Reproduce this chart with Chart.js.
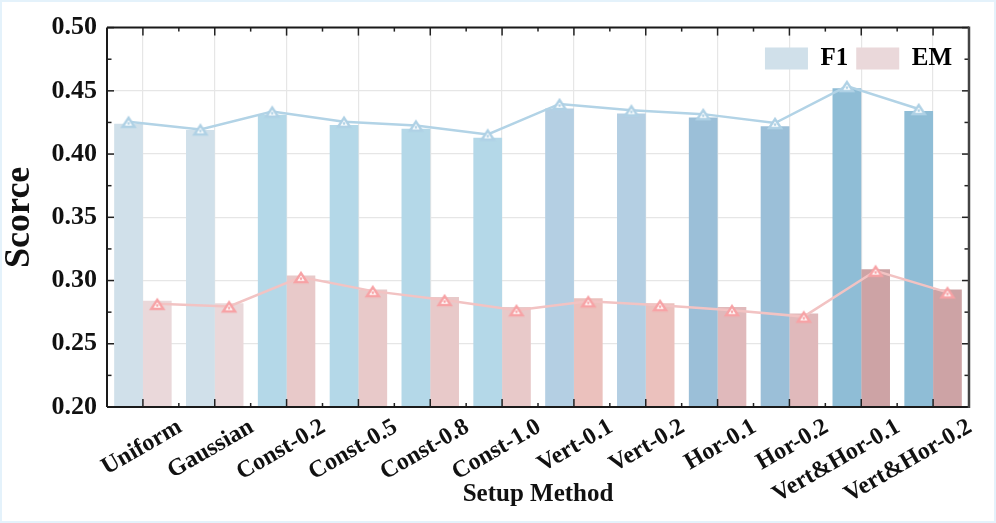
<!DOCTYPE html>
<html>
<head>
<meta charset="utf-8">
<script src="https://cdn.jsdelivr.net/npm/chart.js@4.4.1/dist/chart.umd.min.js"></script>
<style>
  html, body { margin: 0; padding: 0; background: #fff; }
  #wrap { position: relative; width: 996px; height: 523px; box-sizing: border-box; border: 2px solid #e4f2fb; }
  #wrap canvas { position: absolute; left: 0; top: 0; display: block; }
</style>
</head>
<body>
<div id="wrap">
  <canvas id="bars" width="992" height="519"></canvas>
  <canvas id="lines" width="992" height="519"></canvas>
</div>
<script>
// setup methods on the x axis
const methods = ["Uniform", "Gaussian", "Const-0.2", "Const-0.5", "Const-0.8", "Const-1.0",
  "Vert-0.1", "Vert-0.2", "Hor-0.1", "Hor-0.2", "Vert&Hor-0.1", "Vert&Hor-0.2"];

// bar heights
const f1Bars = [0.424, 0.419, 0.431, 0.423, 0.420, 0.413, 0.436, 0.432, 0.429, 0.422, 0.452, 0.434];
const emBars = [0.284, 0.282, 0.304, 0.293, 0.287, 0.279, 0.286, 0.282, 0.279, 0.274, 0.309, 0.293];

// trend lines (triangle markers)
const f1Line = [0.424, 0.418, 0.432, 0.424, 0.421, 0.414, 0.438, 0.433, 0.430, 0.423, 0.452, 0.434];
const emLine = [0.281, 0.279, 0.302, 0.291, 0.284, 0.276, 0.283, 0.280, 0.276, 0.271, 0.307, 0.290];

// y axis
const yMin = 0.20;
const yMax = 0.50;
const yStep = 0.05;

const legendNames = ["F1", "EM"];

// colours per bar
const f1Colors = ["#d0e0ea", "#d0e0ea", "#b4d8e8", "#b4d8e8", "#b4d8e8", "#b4d8e8",
  "#b4cfe3", "#b4cfe3", "#9bbfd8", "#9bbfd8", "#8fbdd6", "#8fbdd6"];
const emColors = ["#ead8da", "#ead8da", "#e8c9c9", "#e8c9c9", "#e8c9c9", "#e8c9c9",
  "#ebc1bd", "#ebc1bd", "#e0b9bb", "#e0b9bb", "#cda3a5", "#cda3a5"];

const ink = "#111";
const gridColor = "#e6e6e6";

// plot box shared by both canvases
const pad = { top: 23, right: 25 };
const yAxisWidth = 105;
const xAxisHeight = 114;

// triangle with white face and a centre dot
function makeMarker(color) {
  const c = document.createElement("canvas");
  c.width = 18;
  c.height = 18;
  const g = c.getContext("2d");
  g.beginPath();
  g.moveTo(9, 5);
  g.lineTo(15, 14);
  g.lineTo(3, 14);
  g.closePath();
  g.fillStyle = "#fff";
  g.fill();
  g.lineWidth = 2.4;
  g.strokeStyle = color;
  g.stroke();
  g.beginPath();
  g.arc(9, 10.6, 1.3, 0, Math.PI * 2);
  g.fillStyle = color;
  g.fill();
  return c;
}

// inward ticks + frame
const frameTicks = {
  id: "frameTicks",
  afterDatasetsDraw(chart) {
    const { ctx, chartArea: a, scales } = chart;
    const xs = scales.x, ys = scales.y;
    const seg = (x1, y1, x2, y2) => { ctx.beginPath(); ctx.moveTo(x1, y1); ctx.lineTo(x2, y2); ctx.stroke(); };
    ctx.save();
    ctx.strokeStyle = "#222";
    ctx.lineWidth = 1.5;
    const nMinor = Math.round((yMax - yMin) / (yStep / 2));
    for (let k = 0; k <= nMinor; k++) {
      const py = ys.getPixelForValue(yMin + k * yStep / 2);
      const len = k % 2 === 0 ? 7 : 4.5;
      seg(a.left, py, a.left + len, py);
      seg(a.right, py, a.right - len, py);
    }
    for (let i = 0; i < methods.length; i++) {
      const px = xs.getPixelForValue(i);
      seg(px, a.bottom, px, a.bottom - 8);
      seg(px, a.top, px, a.top + 8);
      if (i > 0) {
        const pb = (xs.getPixelForValue(i - 1) + px) / 2;
        seg(pb, a.bottom, pb, a.bottom - 4);
        seg(pb, a.top, pb, a.top + 4);
      }
    }
    ctx.lineWidth = 2;
    ctx.strokeStyle = "#1a1a1a";
    seg(a.left, a.top, a.right, a.top);
    seg(a.left, a.top, a.left, a.bottom);
    seg(a.left, a.bottom, a.right, a.bottom);
    ctx.strokeStyle = "#444";
    ctx.lineWidth = 2.5;
    seg(a.right, a.top - 1, a.right, a.bottom + 1);
    ctx.restore();
  }
};

// put the legend inside the plot, top right
const legendInPlot = {
  id: "legendInPlot",
  afterInit(chart) {
    const lg = chart.legend;
    const fit = lg.fit;
    lg.fit = function () { fit.call(this); this.height = 0; };
  },
  afterLayout(chart) {
    const lg = chart.legend, a = chart.chartArea;
    lg.left = a.left;
    lg.right = a.right - 9;
    lg.width = lg.right - lg.left;
    lg.top = a.top + 10.5;
    lg.height = 40;
    lg.bottom = lg.top + lg.height;
  }
};

Chart.defaults.font.family = "'Liberation Serif', 'DejaVu Serif', serif";
Chart.defaults.color = ink;

// bars, axes, legend
new Chart(document.getElementById("bars"), {
  type: "bar",
  data: {
    labels: methods,
    datasets: [
      {
        label: "F1",
        data: f1Bars,
        backgroundColor: f1Colors,
        categoryPercentage: 0.8,
        barPercentage: 1.0,
      },
      {
        label: "EM",
        data: emBars,
        backgroundColor: emColors,
        categoryPercentage: 0.8,
        barPercentage: 1.0,
      },
    ],
  },
  options: {
    responsive: false,
    animation: false,
    devicePixelRatio: 1,
    layout: { padding: { top: pad.top, right: pad.right, bottom: 0, left: 0 } },
    plugins: {
      tooltip: { enabled: false },
      legend: {
        display: true,
        position: "top",
        align: "end",
        labels: {
          boxWidth: 43,
          boxHeight: 22,
          padding: 8,
          color: ink,
          font: { size: 25, weight: "bold" },
          generateLabels: () => legendNames.map((t, i) => ({
            text: t,
            fillStyle: i === 0 ? f1Colors[0] : emColors[0],
            strokeStyle: "rgba(0,0,0,0)",
            lineWidth: 0,
            hidden: false,
            datasetIndex: i,
          })),
        },
      },
    },
    scales: {
      x: {
        type: "category",
        offset: true,
        grid: { offset: false, color: gridColor, lineWidth: 1.2, drawTicks: false },
        border: { display: false },
        ticks: {
          autoSkip: false,
          minRotation: 30,
          maxRotation: 30,
          labelOffset: 37,
          padding: 6,
          color: ink,
          font: { size: 24, weight: "bold" },
        },
        title: {
          display: true,
          text: "Setup Method",
          color: ink,
          font: { size: 25, weight: "bold" },
          padding: { top: 0, bottom: 11 },
        },
        afterFit(s) { s.height = xAxisHeight; },
      },
      y: {
        min: yMin,
        max: yMax,
        grid: { color: gridColor, lineWidth: 1.2, drawTicks: false },
        border: { display: false },
        ticks: {
          stepSize: yStep,
          padding: 10,
          color: ink,
          font: { size: 26, weight: "bold" },
          callback: (v) => Number(v).toFixed(2),
        },
        title: {
          display: true,
          text: "Scorce",
          color: ink,
          font: { size: 36, weight: "bold", lineHeight: 1 },
          padding: { top: 0, bottom: 0 },
        },
        afterFit(s) { s.width = yAxisWidth; },
      },
    },
  },
  plugins: [frameTicks, legendInPlot],
});

// trend lines on top, same plot box, points at the bar centres
new Chart(document.getElementById("lines"), {
  type: "line",
  data: {
    datasets: [
      {
        label: "F1 trend",
        data: f1Line.map((v, i) => ({ x: i - 0.2, y: v })),
        borderColor: "#b2d3e6",
        borderWidth: 2.5,
        pointStyle: makeMarker("#afd1e5"),
        pointRadius: 6,
        fill: false,
      },
      {
        label: "EM trend",
        data: emLine.map((v, i) => ({ x: i + 0.2, y: v })),
        borderColor: "#f2c3c3",
        borderWidth: 2.5,
        pointStyle: makeMarker("#f7a2a5"),
        pointRadius: 6,
        fill: false,
      },
    ],
  },
  options: {
    responsive: false,
    animation: false,
    devicePixelRatio: 1,
    layout: { padding: { top: pad.top, right: pad.right, bottom: xAxisHeight, left: yAxisWidth } },
    plugins: { legend: { display: false }, tooltip: { enabled: false } },
    scales: {
      x: { type: "linear", display: false, min: -0.5, max: methods.length - 0.5 },
      y: { display: false, min: yMin, max: yMax },
    },
  },
});
</script>
</body>
</html>
